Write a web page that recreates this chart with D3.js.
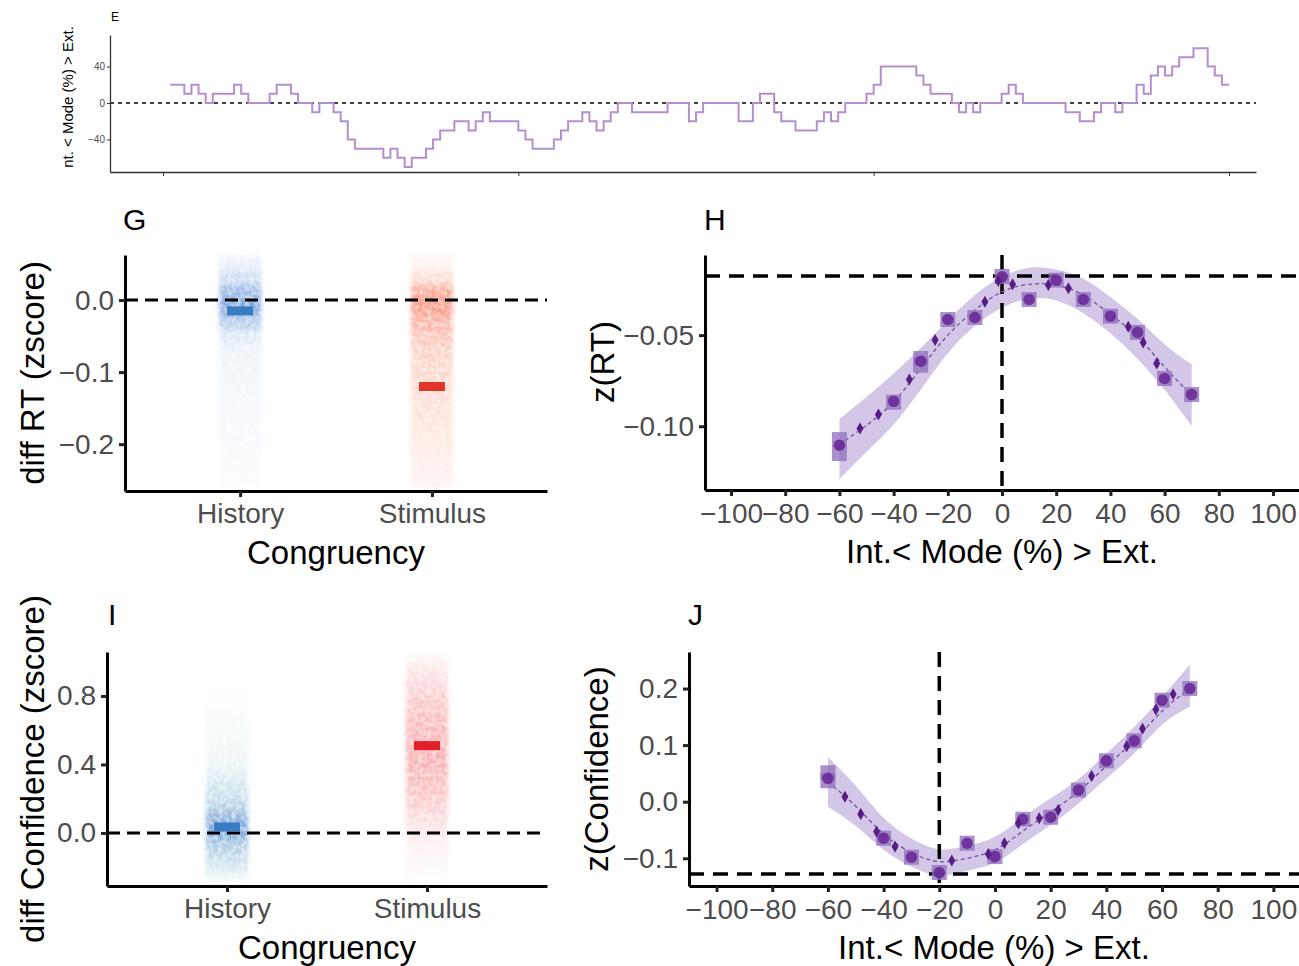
<!DOCTYPE html>
<html><head><meta charset="utf-8">
<script src="https://cdn.jsdelivr.net/npm/d3@7"></script>
<style>
body{margin:0;background:#fff;}
svg{display:block;font-family:"Liberation Sans",Arial,sans-serif;}
</style>
</head><body>
<svg id="c" width="1299" height="966"></svg>
<script>
// ================= DATA =================
// Panel E: mode per trial (trials 1..150), step line
const eModeValues = [
 20,20,10,20,10,0,10,10,10,20, 10,0,0,0,10,20,20,10,0,0,
 -10,0,0,-10,-20,-40,-50,-50,-50,-50, -60,-50,-60,-70,-60,-60,-50,-40,-30,-30,
 -20,-20,-30,-20,-10,-20,-20,-20,-20,-30, -40,-50,-50,-50,-40,-30,-20,-20,-10,-20,
 -30,-20,-10,0,0,-10,-10,-10,-10,-10, 0,0,0,-20,-10,0,0,0,0,0,
 -20,-20,0,10,10,-10,-20,-20,-30,-30, -30,-20,-10,-20,-10,0,0,0,10,20,
 40,40,40,40,40,30,20,10,10,10, 0,-10,0,-10,0,0,0,10,20,10,
 0,0,0,0,0,0,-10,-10,-20,-20, -10,0,0,-10,0,0,20,10,30,40,
 30,40,50,50,60,60,40,30,20,20
];
const eXTicks = [0, 50, 100, 150];
const eYTicks = [-40, 0, 40];

// Panels G / I: congruency clouds (binned density of samples) and means
const congruency = ["History", "Stimulus"];
const rtBins = [0.05,0.03,0.01,-0.01,-0.03,-0.05,-0.07,-0.09,-0.11,-0.13,-0.15,-0.17,-0.19,-0.21,-0.23,-0.25];
const rtHistoryDensity  = [0.16,0.3,0.5,0.6,0.4,0.2,0.13,0.1,0.09,0.08,0.07,0.06,0.06,0.05,0.04,0.03];
const rtStimulusDensity = [0.1,0.24,0.5,0.55,0.44,0.36,0.3,0.27,0.25,0.23,0.21,0.19,0.17,0.15,0.13,0.1];
const rtMeans = [-0.015, -0.12];
const rtYTicks = [-0.2, -0.1, 0.0];

const confBins = [1.0,0.95,0.9,0.85,0.8,0.75,0.7,0.65,0.6,0.55,0.5,0.45,0.4,0.35,0.3,0.25,0.2,0.15,0.1,0.05,0.0,-0.05,-0.1,-0.15,-0.2,-0.25];
const confHistoryDensity  = [0,0,0,0,0.01,0.02,0.04,0.05,0.06,0.07,0.08,0.1,0.12,0.16,0.22,0.27,0.3,0.38,0.5,0.58,0.58,0.46,0.36,0.3,0.24,0.12];
const confStimulusDensity = [0.12,0.18,0.22,0.26,0.29,0.32,0.34,0.36,0.38,0.39,0.4,0.4,0.39,0.38,0.36,0.34,0.31,0.27,0.24,0.2,0.16,0.12,0.09,0.07,0.05,0.03];
const confMeans = [0.035, 0.51];
const confYTicks = [0.0, 0.4, 0.8];

// Panels H / J: mode bins
const modeTicks = [-100,-80,-60,-40,-20,0,20,40,60,80,100];
const fitX = [-60,-50,-40,-30,-20,-10,0,10,20,30,40,50,60,70];

// H: z(RT)
const rtCircleX = [-60,-40,-30,-20,-10,0,10,20,30,40,50,60,70];
const rtCircleY = [-0.1104,-0.0863,-0.0643,-0.0414,-0.0403,-0.0180,-0.0304,-0.0198,-0.0304,-0.0396,-0.0485,-0.0738,-0.0826];
const rtSquareX = [-60,-60,-40,-30,-30,-20,-10,0,10,20,30,40,50,60,70];
const rtSquareY = [-0.1073,-0.1150,-0.0868,-0.0628,-0.0665,-0.0414,-0.0403,-0.0178,-0.0304,-0.0198,-0.0304,-0.0396,-0.0485,-0.0738,-0.0826];
const rtDiamondX = [-52.4,-45.6,-34.2,-24.7,-6.3,-1.4,3.9,17.1,24.5,46.6,52.1,57.1];
const rtDiamondY = [-0.1012,-0.0936,-0.0743,-0.0527,-0.0317,-0.0203,-0.0221,-0.0225,-0.0243,-0.0454,-0.0540,-0.0655];
const rtFit   = [-0.110,-0.0995,-0.0866,-0.0683,-0.050,-0.0363,-0.0262,-0.0221,-0.0225,-0.028,-0.0386,-0.0509,-0.0674,-0.083];
const rtUpper = [-0.096,-0.084,-0.071,-0.057,-0.042,-0.028,-0.018,-0.013,-0.014,-0.019,-0.029,-0.041,-0.055,-0.066];
const rtLower = [-0.129,-0.114,-0.099,-0.080,-0.060,-0.045,-0.035,-0.030,-0.031,-0.038,-0.049,-0.063,-0.080,-0.100];
const rtRef = [0, -0.0175];
const rtZTicks = [-0.10, -0.05];

// J: z(Confidence)
const cfCircleX = [-60,-40,-30,-20,-10,0,10,20,30,40,50,60,70];
const cfCircleY = [0.0413,-0.0646,-0.0981,-0.1252,-0.0734,-0.097,-0.031,-0.0275,0.0206,0.0723,0.1076,0.1794,0.20];
const cfSquareX = [-60,-60,-40,-30,-20,-10,0,10,20,30,40,50,60,70];
const cfSquareY = [0.0511,0.037,-0.0646,-0.0981,-0.1252,-0.0734,-0.097,-0.031,-0.0275,0.0206,0.0723,0.1076,0.1794,0.20];
const cfDiamondX = [-53.9,-48.2,-42.5,-35.9,-15.5,-2.4,3.4,8.4,15.9,22.7,34.7,47.3,53.0,57.8,64.0];
const cfDiamondY = [0.0088,-0.0217,-0.0529,-0.0794,-0.104,-0.0923,-0.0734,-0.038,-0.0293,-0.0146,0.0453,0.0982,0.1288,0.163,0.19];
const cfFit   = [0.035,-0.008,-0.057,-0.09,-0.106,-0.1,-0.085,-0.052,-0.018,0.018,0.063,0.108,0.160,0.20];
const cfUpper = [0.079,0.028,-0.029,-0.065,-0.084,-0.078,-0.062,-0.028,0.006,0.040,0.085,0.132,0.185,0.242];
const cfLower = [-0.009,-0.043,-0.085,-0.115,-0.13,-0.122,-0.108,-0.075,-0.041,-0.003,0.041,0.085,0.136,0.168];
const cfRef = [-20, -0.1277];
const cfZTicks = [-0.1, 0.0, 0.1, 0.2];

// ================= DRAW =================
const svg = d3.select("#c");
const defs = svg.append("defs");
const flt = defs.append("filter").attr("id","soft").attr("x","-30%").attr("y","-10%").attr("width","160%").attr("height","120%");
flt.append("feGaussianBlur").attr("in","SourceGraphic").attr("stdDeviation","2 3").attr("result","blur");
flt.append("feTurbulence").attr("type","fractalNoise").attr("baseFrequency","0.22").attr("numOctaves",2).attr("seed",3).attr("result","noise");
flt.append("feColorMatrix").attr("in","noise").attr("type","matrix")
  .attr("values","0 0 0 0 0  0 0 0 0 0  0 0 0 0 0  1.3 0 0 0 0.15").attr("result","na");
flt.append("feComposite").attr("in","blur").attr("in2","na").attr("operator","in");

const TICK_FONT = 28, TITLE_FONT = 33, LETTER_FONT = 30;
const tickCol = "#4d4d4d";

function styleAxis(g, fs, lw) {
  g.select(".domain").attr("stroke","#000").attr("stroke-width",lw);
  g.selectAll(".tick line").attr("stroke","#222").attr("stroke-width",lw);
  g.selectAll(".tick text").attr("fill",tickCol).style("font-size",fs+"px");
}

// ---------- Panel E ----------
(function(){
  const x = d3.scaleLinear().domain([-7.46,153.8]).range([110,1256]);
  const y = d3.scaleLinear().domain([-75.6,74.5]).range([172,35]);
  const g = svg.append("g");
  g.append("text").attr("x",111).attr("y",21).text("E").style("font-size","12px").attr("fill","#000");
  g.append("line").attr("x1",110).attr("x2",1256).attr("y1",y(0)).attr("y2",y(0))
    .attr("stroke","#000").attr("stroke-width",1.3).attr("stroke-dasharray","4,4");
  const line = d3.line().x((d,i)=>x(i+1)).y(d=>y(d)).curve(d3.curveStepAfter);
  g.append("path").datum(eModeValues).attr("d",line).attr("fill","none")
    .attr("stroke","#b48fcf").attr("stroke-width",2);
  const ax = g.append("g").attr("transform","translate(0,172)")
    .call(d3.axisBottom(x).tickValues(eXTicks).tickFormat("").tickSize(4).tickSizeOuter(0));
  ax.select(".domain").attr("stroke","#333").attr("stroke-width",1.3);
  ax.selectAll(".tick line").attr("stroke","#333").attr("stroke-width",1);
  const ay = g.append("g").attr("transform","translate(110,0)")
    .call(d3.axisLeft(y).tickValues(eYTicks).tickFormat(d3.format("d")).tickSize(3).tickSizeOuter(0).tickPadding(2));
  ay.select(".domain").attr("stroke","#333").attr("stroke-width",1.3);
  ay.selectAll(".tick line").attr("stroke","#333");
  ay.selectAll(".tick text").attr("fill",tickCol).style("font-size","10px");
  g.append("text").attr("transform","translate(73,97) rotate(-90)").attr("text-anchor","middle")
    .style("font-size","15px").attr("fill","#000").text("nt. < Mode (%) > Ext.");
})();

// ---------- Cloud panels (G, I) ----------
function cloudPanel(opt){
  const g = svg.append("g");
  const x = d3.scalePoint().domain(congruency).range([opt.left,opt.right]).padding(0.6);
  const y = d3.scaleLinear().domain(opt.yDomain).range([opt.bottom,opt.top]);
  const step = Math.abs(opt.bins[1]-opt.bins[0]);
  const cw = 42;
  opt.densities.forEach((dens,ci)=>{
    const cg = g.append("g").attr("filter","url(#soft)");
    const maxD = d3.max(dens);
    cg.selectAll("rect").data(opt.bins).join("rect")
      .attr("x", x(congruency[ci]) - cw/2)
      .attr("width", cw)
      .attr("y", d=>y(d+step/2))
      .attr("height", d=>y(d-step/2)-y(d+step/2)+0.5)
      .attr("fill", (d,i)=>opt.colors[ci](dens[i]/maxD))
      .attr("fill-opacity", (d,i)=>dens[i]);
  });
  g.append("line").attr("x1",opt.left).attr("x2",opt.right).attr("y1",y(0)).attr("y2",y(0))
    .attr("stroke","#000").attr("stroke-width",3).attr("stroke-dasharray","13,7");
  g.selectAll(".mean").data(opt.means).join("rect").attr("class","mean")
    .attr("x",(d,i)=>x(congruency[i])-13).attr("width",26)
    .attr("y",d=>y(d)-4.5).attr("height",9)
    .attr("fill",(d,i)=>opt.meanColors[i]);
  const ax = g.append("g").attr("transform",`translate(0,${opt.bottom})`)
    .call(d3.axisBottom(x).tickSize(6).tickSizeOuter(0).tickPadding(6));
  styleAxis(ax, TICK_FONT, 3);
  const ay = g.append("g").attr("transform",`translate(${opt.left},0)`)
    .call(d3.axisLeft(y).tickValues(opt.yTicks).tickFormat(d3.format(".1f")).tickSize(6).tickSizeOuter(0).tickPadding(5));
  styleAxis(ay, TICK_FONT, 3);
  g.append("text").attr("x",(opt.left+opt.right)/2).attr("y",opt.bottom+73).attr("text-anchor","middle")
    .style("font-size",TITLE_FONT+"px").attr("fill","#000").text("Congruency");
  g.append("text").attr("transform",`translate(${opt.ylabX},${(opt.top+opt.bottom)/2}) rotate(-90)`)
    .attr("text-anchor","middle").style("font-size",TITLE_FONT+"px").attr("fill","#000").text(opt.ylab);
  g.append("text").attr("x",opt.letterX).attr("y",opt.letterY).style("font-size",LETTER_FONT+"px").attr("fill","#000").text(opt.letter);
}

cloudPanel({left:125,right:547,top:255,bottom:491,yDomain:[-0.265,0.0625],
  bins:rtBins,densities:[rtHistoryDensity,rtStimulusDensity],
  colors:[d3.interpolateRgb("#86aee2","#2f70c8"), d3.interpolateRgb("#f7906e","#f0502a")],
  means:rtMeans, meanColors:["#3a7cc2","#e2352a"], yTicks:rtYTicks,
  ylab:"diff RT (zscore)", ylabX:44, letter:"G", letterX:123, letterY:230});

cloudPanel({left:107,right:547,top:652,bottom:886,yDomain:[-0.31,1.057],
  bins:confBins,densities:[confHistoryDensity,confStimulusDensity],
  colors:[d3.interpolateRgb("#74c0bc","#2f6fc6"), d3.interpolateRgb("#f7a0a0","#ef4b4f")],
  means:confMeans, meanColors:["#3a7cc2","#e0212a"], yTicks:confYTicks,
  ylab:"diff Confidence (zscore)", ylabX:44, letter:"I", letterX:108, letterY:625});

// ---------- Mode panels (H, J) ----------
function modePanel(opt){
  const g = svg.append("g");
  const x = d3.scaleLinear().domain(opt.xDomain).range([opt.left,opt.right]);
  const y = d3.scaleLinear().domain(opt.yDomain).range([opt.bottom,opt.top]);
  const area = d3.area().x((d,i)=>x(fitX[i])).y0((d,i)=>y(opt.lower[i])).y1((d,i)=>y(opt.upper[i])).curve(d3.curveNatural);
  g.append("path").datum(opt.fit).attr("d",area).attr("fill","#d3c6e6");
  g.append("line").attr("x1",x(opt.ref[0])).attr("x2",x(opt.ref[0])).attr("y1",opt.top).attr("y2",opt.bottom)
    .attr("stroke","#000").attr("stroke-width",3.5).attr("stroke-dasharray","15,9");
  g.append("line").attr("x1",opt.left).attr("x2",opt.right).attr("y1",y(opt.ref[1])).attr("y2",y(opt.ref[1]))
    .attr("stroke","#000").attr("stroke-width",3.5).attr("stroke-dasharray","15,9");
  const line = d3.line().x((d,i)=>x(fitX[i])).y(d=>y(d)).curve(d3.curveNatural);
  g.append("path").datum(opt.fit).attr("d",line).attr("fill","none").attr("stroke","#7650a6")
    .attr("stroke-width",1.3).attr("stroke-dasharray","4,3");
  g.selectAll(".sq").data(opt.sqX).join("rect").attr("class","sq")
    .attr("x",d=>x(d)-7.5).attr("y",(d,i)=>y(opt.sqY[i])-7.5).attr("width",15).attr("height",15)
    .attr("fill","#9474be").attr("fill-opacity",0.8);
  g.selectAll(".ci").data(opt.ciX).join("circle").attr("class","ci")
    .attr("cx",d=>x(d)).attr("cy",(d,i)=>y(opt.ciY[i])).attr("r",5.8)
    .attr("fill","#6a2a98").attr("fill-opacity",0.9);
  const sym = d3.symbol().type(d3.symbolDiamond).size(42);
  g.selectAll(".di").data(opt.diX).join("path").attr("class","di")
    .attr("transform",(d,i)=>`translate(${x(d)},${y(opt.diY[i])})`).attr("d",sym)
    .attr("fill","#561d85");
  const ax = g.append("g").attr("transform",`translate(0,${opt.bottom})`)
    .call(d3.axisBottom(x).tickValues(modeTicks).tickFormat(d3.format("d")).tickSize(6).tickSizeOuter(0).tickPadding(7));
  styleAxis(ax, TICK_FONT, 3);
  const ay = g.append("g").attr("transform",`translate(${opt.left},0)`)
    .call(d3.axisLeft(y).tickValues(opt.yTicks).tickFormat(d3.format(opt.fmt)).tickSize(6).tickSizeOuter(0).tickPadding(5));
  styleAxis(ay, TICK_FONT, 3);
  g.append("text").attr("x",(opt.left+opt.right)/2).attr("y",opt.bottom+73).attr("text-anchor","middle")
    .style("font-size",TITLE_FONT+"px").attr("fill","#000").text("Int.< Mode (%) > Ext.");
  g.append("text").attr("transform",`translate(${opt.ylabX},${opt.ylabY}) rotate(-90)`)
    .attr("text-anchor","middle").style("font-size",TITLE_FONT+"px").attr("fill","#000").text(opt.ylab);
  g.append("text").attr("x",opt.letterX).attr("y",opt.letterY).style("font-size",LETTER_FONT+"px").attr("fill","#000").text(opt.letter);
}

modePanel({left:705,right:1299,top:255,bottom:490,xDomain:[-109.6,109.6],yDomain:[-0.135,-0.006],
  fit:rtFit,upper:rtUpper,lower:rtLower,ref:rtRef,
  sqX:rtSquareX,sqY:rtSquareY,ciX:rtCircleX,ciY:rtCircleY,diX:rtDiamondX,diY:rtDiamondY,
  yTicks:rtZTicks,fmt:".2f",ylab:"z(RT)",ylabX:614,ylabY:362,letter:"H",letterX:704,letterY:230});

modePanel({left:689,right:1299,top:652,bottom:886,xDomain:[-109.9,109.2],yDomain:[-0.149,0.2646],
  fit:cfFit,upper:cfUpper,lower:cfLower,ref:cfRef,
  sqX:cfSquareX,sqY:cfSquareY,ciX:cfCircleX,ciY:cfCircleY,diX:cfDiamondX,diY:cfDiamondY,
  yTicks:cfZTicks,fmt:".1f",ylab:"z(Confidence)",ylabX:608,ylabY:769,letter:"J",letterX:688,letterY:625});
</script>
</body></html>
